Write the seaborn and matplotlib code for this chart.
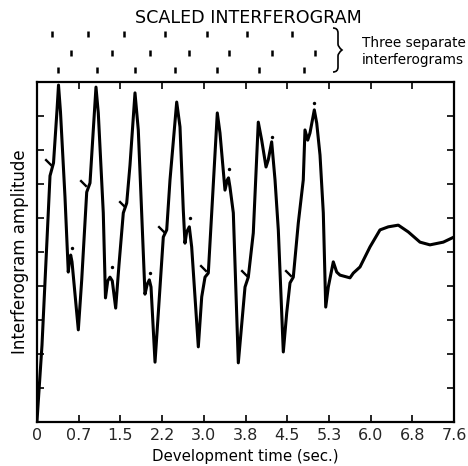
import numpy as np
import pandas as pd
import seaborn as sns
import matplotlib
matplotlib.use("Agg")
import matplotlib.pyplot as plt
from matplotlib.path import Path
from matplotlib.patches import PathPatch

# ---------------- data ----------------
time_s = [0.000, 0.091, 0.182, 0.237, 0.301, 0.365, 0.392, 0.428, 0.510, 0.570,
          0.592, 0.614, 0.638, 0.753, 0.815, 0.906, 0.966, 1.026, 1.075, 1.117,
          1.208, 1.248, 1.289, 1.330, 1.372, 1.434, 1.494, 1.573, 1.635, 1.695,
          1.786, 1.846, 1.968, 2.010, 2.047, 2.078, 2.151, 2.211, 2.302, 2.364,
          2.424, 2.546, 2.606, 2.666, 2.697, 2.728, 2.776, 2.819, 2.940, 3.002,
          3.062, 3.122, 3.184, 3.286, 3.335, 3.426, 3.468, 3.490, 3.517, 3.578,
          3.669, 3.791, 3.851, 3.942, 4.033, 4.095, 4.174, 4.215, 4.277, 4.338,
          4.398, 4.489, 4.551, 4.611, 4.671, 4.762, 4.853, 4.884, 4.934, 4.975,
          5.054, 5.098, 5.158, 5.218, 5.262, 5.309, 5.400, 5.462, 5.522, 5.704,
          5.765, 5.887, 6.069, 6.251, 6.402, 6.585, 6.767, 6.980, 7.162, 7.405,
          7.600]
amplitude = [0.03, 2.26, 5.35, 7.24, 7.62, 9.18, 9.91, 9.12, 6.62, 4.41,
             4.76, 4.91, 4.71, 2.71, 4.18, 6.76, 7.03, 8.59, 9.85, 9.09,
             6.15, 3.65, 4.15, 4.26, 4.15, 3.35, 4.62, 6.15, 6.44, 7.56,
             9.68, 8.59, 3.76, 4.06, 4.18, 3.97, 1.76, 3.21, 5.44, 5.65,
             7.12, 9.41, 8.68, 6.24, 5.26, 5.59, 5.74, 5.15, 2.21, 3.68,
             4.26, 4.38, 6.15, 9.09, 8.50, 6.82, 7.12, 7.18, 6.91, 6.15,
             1.74, 3.97, 4.26, 5.56, 8.82, 8.29, 7.50, 7.71, 8.24, 7.12,
             5.65, 2.06, 3.21, 4.09, 4.26, 5.85, 7.12, 8.59, 8.29, 8.50,
             9.18, 8.79, 7.85, 6.15, 3.38, 3.97, 4.71, 4.41, 4.32, 4.24,
             4.38, 4.56, 5.15, 5.65, 5.74, 5.79, 5.59, 5.29, 5.21, 5.29,
             5.44]

# sample marks near the curve
dash_t = [0.206, 0.844, 1.555, 2.254, 3.031, 3.773, 4.580]
dash_amp = [7.66, 7.04, 6.41, 5.67, 4.52, 4.37, 4.37]
dot_t = [0.643, 1.372, 2.059, 2.794, 3.494, 4.277, 5.054]
dot_amp = [5.11, 4.55, 4.37, 5.99, 7.43, 8.39, 9.39]

# three separate interferograms (tick rows above the plot)
row1_t = [0.268, 0.924, 1.591, 2.333, 3.093, 3.833, 4.653]
row2_t = [0.620, 1.361, 2.059, 2.776, 3.505, 4.277, 5.067]
row3_t = [0.388, 1.088, 1.786, 2.515, 3.275, 4.051, 4.866]

x_tick_values = [0.0, 0.76, 1.52, 2.28, 3.04, 3.80, 4.56, 5.32, 6.08, 6.84, 7.60]
x_tick_labels = ["0", "0.7", "1.5", "2.2", "3.0", "3.8", "4.5", "5.3", "6.0", "6.8", "7.6"]
y_tick_values = list(range(0, 11))

title_text = "SCALED INTERFEROGRAM"
xlabel_text = "Development time (sec.)"
ylabel_text = "Interferogram amplitude"
note_lines = ["Three separate", "interferograms"]

# ---------------- plot ----------------
sns.set_theme(style="white")
plt.rcParams["font.family"] = ["DejaVu Sans"]

W, H = 468, 466
fig = plt.figure(figsize=(W / 100, H / 100), dpi=100)
ax = fig.add_axes([37 / W, 1 - 422 / H, 417 / W, 340 / H])

df = pd.DataFrame({"t": time_s, "amp": amplitude})
sns.lineplot(data=df, x="t", y="amp", ax=ax, color="black", linewidth=2.2,
             estimator=None, sort=False)

dash_marker = [(-1, 1), (1, -1)]
sns.scatterplot(x=dash_t, y=dash_amp, ax=ax, marker=dash_marker, s=22,
                color="black", linewidth=1.7, edgecolor="black")
sns.scatterplot(x=dot_t, y=dot_amp, ax=ax, marker="o", s=6,
                color="black", linewidth=0)

ax.set_xlim(0, 7.6)
ax.set_ylim(0, 10)
ax.set_xticks(x_tick_values)
ax.set_xticklabels(x_tick_labels, fontsize=11.5)
ax.set_yticks(y_tick_values)
ax.tick_params(axis="both", direction="in", length=5, width=1.2, color="black",
               top=True, right=True, left=True, bottom=True,
               labelleft=False, labeltop=False, labelright=False, pad=4)
for s in ax.spines.values():
    s.set_linewidth(1.6)
    s.set_color("black")
    s.set_visible(True)

ax.set_xlabel(xlabel_text, fontsize=10.8, labelpad=5, color="black")
ax.set_ylabel(ylabel_text, fontsize=12, labelpad=6, color="black")

# tick rows above the axes
trans = ax.get_xaxis_transform()
for row, yc in zip([row1_t, row2_t, row3_t], [1.141, 1.085, 1.035]):
    ax.vlines(row, yc - 0.009, yc + 0.009, transform=trans, colors="black",
              linewidth=1.8, clip_on=False)

fig.text(248 / W, 1 - 18 / H, title_text, ha="center", va="center",
         fontsize=12.6, color="black")
fig.text(362 / W, 1 - 43 / H, note_lines[0], ha="left", va="center",
         fontsize=9.8, color="black")
fig.text(362 / W, 1 - 60 / H, note_lines[1], ha="left", va="center",
         fontsize=9.8, color="black")

# curly brace
def P(x, y):
    return (x / W, 1 - y / H)

verts = [P(333, 28), P(338, 28), P(338, 33), P(338, 38),
         P(338, 44), P(338, 47), P(342, 50),
         P(338, 53), P(338, 56), P(338, 62),
         P(338, 67), P(338, 72), P(333, 72)]
codes = [Path.MOVETO, Path.CURVE3, Path.CURVE3, Path.LINETO,
         Path.LINETO, Path.CURVE3, Path.CURVE3,
         Path.CURVE3, Path.CURVE3, Path.LINETO,
         Path.LINETO, Path.CURVE3, Path.CURVE3]
fig.patches.append(PathPatch(Path(verts, codes), transform=fig.transFigure,
                             fill=False, edgecolor="black", linewidth=1.2))

fig.savefig("out.png", dpi=100, facecolor="white")
